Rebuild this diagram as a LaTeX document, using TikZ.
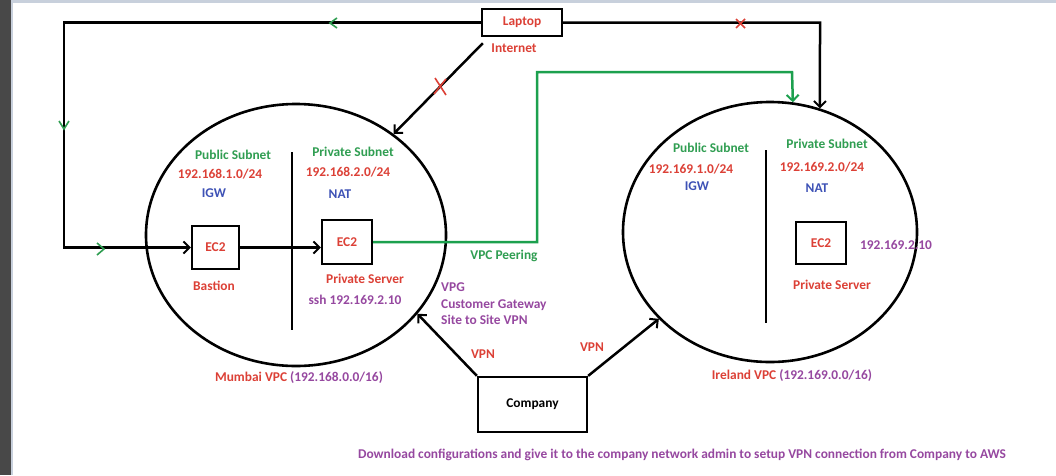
\documentclass[tikz,border=0pt]{standalone}
\usepackage{fontspec}
\setmainfont{Carlito}
\usetikzlibrary{arrows.meta,shapes.geometric}
\definecolor{tred}{RGB}{220,64,54}
\definecolor{tgreen}{RGB}{48,158,82}
\definecolor{lgreen}{RGB}{28,160,78}
\definecolor{tblue}{RGB}{62,82,182}
\definecolor{tpurple}{RGB}{150,72,160}
\definecolor{sidegray}{RGB}{72,72,72}
\definecolor{barblue}{RGB}{200,208,220}
\begin{document}
\begin{tikzpicture}[x=1pt,y=-1pt,
  lbl/.style={font=\fontsize{13.4}{16.5}\selectfont\bfseries, inner sep=0pt},
  conn/.style={line width=2.5pt, draw=black},
  arr/.style={-{Straight Barb[length=6pt,width=12pt,line width=2pt]}},
  boxnode/.style={draw, line width=2.3pt, inner sep=0pt, font=\fontsize{13.4}{16.5}\selectfont\bfseries},
  vpc/.style={ellipse, draw, line width=2.6pt, inner sep=0pt},
  chev/.style={draw=tgreen, line width=1.6pt},
  redx/.style={draw=tred, line width=1.6pt},
  divider/.style={line width=2.5pt}
]
\useasboundingbox (0,0) rectangle (1056,475);
\fill[white] (0,0) rectangle (1056,475);
\fill[sidegray] (0,0) rectangle (11,475);
\fill[barblue] (11,0) rectangle (13,475);
\fill[barblue] (11,0) rectangle (1056,3);

% VPC ellipses
\node[vpc, minimum width=300pt, minimum height=262pt] (mumbai) at (296,235) {};
\node[vpc, minimum width=294pt, minimum height=260pt] (ireland) at (770,232) {};

% dividers
\draw[divider] (292,152) -- (292,330);
\draw[divider] (766,150) -- (766,323);

% boxes
\node[boxnode, minimum width=80pt, minimum height=27pt, text=tred] (laptop) at (522,22.5) {Laptop};
\node[boxnode, minimum width=47pt, minimum height=43pt, text=tred] (bastion) at (215.5,247.5) {EC2};
\node[boxnode, minimum width=50pt, minimum height=44pt, text=tred] (ec2a) at (347,242) {EC2};
\node[boxnode, minimum width=50pt, minimum height=42pt, text=tred] (ec2b) at (821,243) {EC2};
\node[boxnode, minimum width=109pt, minimum height=55pt, text=black] (company) at (532.5,404.5) {Company};

% connectors
\coordinate (c1) at (64,22.5);
\coordinate (c2) at (64,247.5);
\draw[conn,arr] (laptop.west) -- (c1) -- (c2) -- (bastion.west);
\coordinate (c3) at (820,22.5);
\draw[conn,arr] (laptop.east) -- (c3) -- (ireland.68);
\draw[conn,arr] ([shift={(2,6)}]laptop.south west) -- (mumbai.46);
\draw[conn,arr] (bastion.east) -- (bastion.east -| ec2a.west);
\coordinate (g1) at (537,242);
\coordinate (g2) at (537,72);
\coordinate (g3) at (792,72);
\draw[line width=2.5pt, draw=lgreen, -{Straight Barb[length=6pt,width=12pt,line width=2pt]}] (ec2a.east) -- (g1) -- (g2) -- (g3) -- (ireland.80.5);
\draw[conn,arr] (company.north west) -- (mumbai.-33);
\draw[conn,arr] (company.north east) -- (ireland.218);

% green chevrons
\draw[chev] (337,18) -- (330,23) -- (337,28);
\draw[chev] (59,121) -- (64,129) -- (69,121);
\draw[chev] (97,243) -- (104,249) -- (97,255);

% red crosses
\draw[redx] (435,78) -- (446,95);
\draw[redx] (446,79) -- (434,94);
\draw[redx] (736,19) -- (745,28);
\draw[redx] (745,19) -- (736,28);

% labels
\node[lbl, text=tred] (internet) at (514,48) {Internet};

\node[lbl, text=tgreen] (pubA) at (233,155) {Public Subnet};
\node[lbl, text=tred] (cidrA1) at (220,174) {192.168.1.0/24};
\node[lbl, text=tblue] (igwA) at (214,193) {IGW};
\node[lbl, text=tgreen] (privA) at (353,152) {Private Subnet};
\node[lbl, text=tred] (cidrA2) at (348,172) {192.168.2.0/24};
\node[lbl, text=tblue] (natA) at (340,194) {NAT};
\node[lbl, text=tred] (bastionlbl) at (214,286) {Bastion};
\node[lbl, text=tred] (psA) at (365,279) {Private Server};
\node[lbl, text=tpurple] (ssh) at (355,300) {ssh 192.169.2.10};
\node[lbl, text=tgreen] (peering) at (504,256) {VPC Peering};
\node[lbl, text=tpurple, anchor=north west, align=left] (vpg) at (441,283) {VPG\\Customer Gateway\\Site to Site VPN};
\node[lbl, text=tred] (vpn1) at (483,354) {VPN};
\node[lbl, text=tred] (vpn2) at (592,347) {VPN};
\node[lbl, text=tred] (mumbailbl) at (299,378) {Mumbai VPC \textcolor{tpurple}{(192.168.0.0/16)}};

\node[lbl, text=tgreen] (pubB) at (711,148) {Public Subnet};
\node[lbl, text=tred] (cidrB1) at (691,169) {192.169.1.0/24};
\node[lbl, text=tblue] (igwB) at (697,186) {IGW};
\node[lbl, text=tgreen] (privB) at (827,144) {Private Subnet};
\node[lbl, text=tred] (cidrB2) at (822,167) {192.169.2.0/24};
\node[lbl, text=tblue] (natB) at (817,188) {NAT};
\node[lbl, text=tpurple] (ipB) at (896,245) {192.169.2.10};
\node[lbl, text=tred] (psB) at (832,285) {Private Server};
\node[lbl, text=tred] (irelandlbl) at (792,376) {Ireland VPC \textcolor{tpurple}{(192.169.0.0/16)}};

\node[lbl, text=tpurple] (note) at (682,455) {Download configurations and give it to the company network admin to setup VPN connection from Company to AWS};
\end{tikzpicture}
\end{document}
